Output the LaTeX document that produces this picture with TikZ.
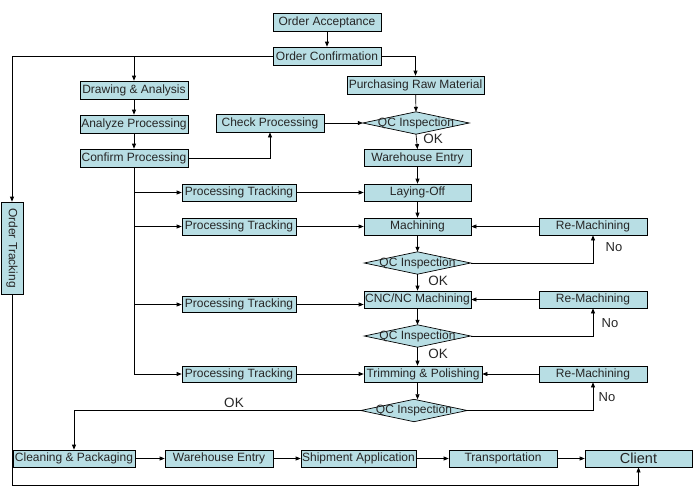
\documentclass[tikz,border=0pt]{standalone}
\usepackage{fontspec}
\setmainfont{Liberation Sans}
\usetikzlibrary{arrows.meta}
\definecolor{boxfill}{RGB}{184,222,228}
\pgfdeclarelayer{bg}
\pgfsetlayers{bg,main}
\begin{document}
\begin{tikzpicture}[x=1pt,y=-1pt,
  box/.style={draw=black,fill=boxfill,line width=0.7pt,inner sep=0pt,minimum height=17pt,
    font=\fontsize{12}{13}\selectfont,text=black!85},
  qc/.style={inner sep=0pt,minimum width=106pt,minimum height=22pt,
    font=\fontsize{12}{13}\selectfont,text=black!85},
  lbl/.style={inner sep=0pt,font=\fontsize{13.5}{15}\selectfont,text=black!85},
  arr/.style={-{Triangle[length=5pt,width=4pt]},line width=0.7pt},
  ln/.style={line width=0.7pt}]
\useasboundingbox (0,0) rectangle (694,488);
% top
\node[box,minimum width=108pt,minimum height=18pt] (acc) at (327,22) {Order Acceptance};
\node[box,minimum width=108pt,minimum height=18pt] (conf) at (327,56) {Order Confirmation};
\node[box,minimum width=137pt,minimum height=18pt] (pur) at (415.5,85) {Purchasing Raw Material};
\node[box,minimum width=108pt,minimum height=18pt] (drw) at (134,90) {Drawing \& Analysis};
\node[box,minimum width=108pt,minimum height=18pt] (ana) at (134,124) {Analyze Processing};
\node[box,minimum width=108pt,minimum height=18pt] (chk) at (270,123) {Check Processing};
\node[qc] (q1) at (416,123) {QC Inspection};
\node[box,minimum width=108pt,minimum height=18pt] (cnf) at (134,158) {Confirm Processing};
\node[box,minimum width=107pt] (wh1) at (417.5,158) {Warehouse Entry};
% middle
\node[box,minimum width=107pt] (lay) at (417.5,192.5) {Laying-Off};
\node[box,minimum width=114pt] (pt1) at (239,192.5) {Processing Tracking};
\node[box,minimum width=114pt] (pt2) at (239,226.5) {Processing Tracking};
\node[box,minimum width=107pt] (mach) at (417.5,226.5) {Machining};
\node[box,minimum width=108pt] (rm1) at (593,226.5) {Re-Machining};
\node[qc] (q2) at (417.5,263) {QC Inspection};
\node[box,minimum width=107pt] (cnc) at (417.5,299.5) {CNC/NC Machining};
\node[box,minimum width=108pt] (rm2) at (593,299.5) {Re-Machining};
\node[box,minimum width=114pt,minimum height=16pt] (pt3) at (239,304.5) {Processing Tracking};
\node[qc] (q3) at (417.5,336) {QC Inspection};
\node[box,minimum width=118pt,minimum height=16pt] (trim) at (423,374) {Trimming \& Polishing};
\node[box,minimum width=108pt,minimum height=16pt] (rm3) at (593,374) {Re-Machining};
\node[box,minimum width=114pt,minimum height=16pt] (pt4) at (239,374) {Processing Tracking};
\node[qc] (q4) at (414,410.5) {QC Inspection};
% bottom row
\node[box,minimum width=122pt] (clean) at (74,458.5) {Cleaning \& Packaging};
\node[box,minimum width=108pt] (wh2) at (219,458.5) {Warehouse Entry};
\node[box,minimum width=115pt] (ship) at (358.5,458.5) {Shipment Application};
\node[box,minimum width=108pt] (trans) at (503,458.5) {Transportation};
\node[box,minimum width=107pt,font=\fontsize{14.5}{16}\selectfont] (client) at (638.5,458.5) {Client};
\node[box,minimum width=92pt,minimum height=22pt,rotate=-90] (trk) at (12,248) {Order Tracking};
% labels
\node[lbl] (ok1) at (433,139) {OK};
\node[lbl] (ok2) at (438,281) {OK};
\node[lbl] (ok3) at (438,354) {OK};
\node[lbl] (okb) at (234,403) {OK};
\node[lbl,font=\fontsize{13}{15}\selectfont] (no1) at (614,247) {No};
\node[lbl,font=\fontsize{13}{15}\selectfont] (no2) at (610,323) {No};
\node[lbl,font=\fontsize{13}{15}\selectfont] (no3) at (607,397) {No};
\coordinate (bot) at (0,485);
% diamonds
\begin{pgfonlayer}{bg}
\foreach \q in {q1,q2,q3,q4}
  \draw[fill=boxfill,line width=0.7pt] (\q.north) -- (\q.east) -- (\q.south) -- (\q.west) -- cycle;
\end{pgfonlayer}
% connectors
\draw[arr] (acc) -- (conf);
\draw[arr] (conf.west) -| (trk.west);
\draw[arr] (conf.west -| drw.north) -- (drw.north);
\draw[arr] (conf.east) -| (pur.north);
\draw[arr] (pur) -- (q1.north);
\draw[arr] (drw) -- (ana);
\draw[arr] (ana) -- (cnf);
\draw[arr] (cnf.east) -| (chk.south);
\draw[arr] (chk.east) -- (q1.west);
\draw[arr] (q1.south) -- (wh1.north);
\draw[arr] (wh1) -- (lay);
\draw[arr] (cnf.south) |- (pt4.west);
\draw[arr] (cnf.south |- pt1.west) -- (pt1.west);
\draw[arr] (cnf.south |- pt2.west) -- (pt2.west);
\draw[arr] (cnf.south |- pt3.west) -- (pt3.west);
\draw[arr] (pt1.east) -- (lay.west);
\draw[arr] (pt2.east) -- (mach.west);
\draw[arr] (pt3.east) -- (pt3.east -| cnc.west);
\draw[arr] (pt4.east) -- (trim.west);
\draw[arr] (lay) -- (mach);
\draw[arr] (mach) -- (q2.north);
\draw[arr] (q2.south) -- (cnc.north);
\draw[arr] (cnc) -- (q3.north);
\draw[arr] (q3.south) -- (cnc.south |- trim.north);
\draw[arr] (cnc.south |- trim.south) -- (cnc.south |- q4.north);
\draw[arr] (q2.east) -| (rm1.south);
\draw[arr] (rm1) -- (mach);
\draw[arr] (q3.east) -| (rm2.south);
\draw[arr] (rm2) -- (cnc);
\draw[arr] (q4.east) -| (rm3.south);
\draw[arr] (rm3) -- (trim);
\draw[arr] (q4.west) -| (clean.north);
\draw[arr] (clean) -- (wh2);
\draw[arr] (wh2) -- (ship);
\draw[arr] (ship) -- (trans);
\draw[arr] (trans) -- (client);
\draw[arr] (trk.east) |- (client.south |- bot) -- (client.south);
\end{tikzpicture}
\end{document}
